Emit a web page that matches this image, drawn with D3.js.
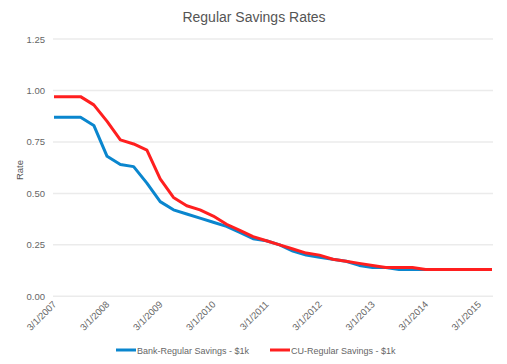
<!DOCTYPE html>
<html><head><meta charset="utf-8">
<script src="https://cdn.jsdelivr.net/npm/d3@7"></script>
<style>body{margin:0;background:#fff}svg{display:block;font-family:"Liberation Sans",Arial,sans-serif}</style>
</head><body>
<script>
const dates = ["3/1/2007","6/1/2007","9/1/2007","12/1/2007","3/1/2008","6/1/2008","9/1/2008","12/1/2008",
"3/1/2009","6/1/2009","9/1/2009","12/1/2009","3/1/2010","6/1/2010","9/1/2010","12/1/2010",
"3/1/2011","6/1/2011","9/1/2011","12/1/2011","3/1/2012","6/1/2012","9/1/2012","12/1/2012",
"3/1/2013","6/1/2013","9/1/2013","12/1/2013","3/1/2014","6/1/2014","9/1/2014","12/1/2014",
"3/1/2015","6/1/2015"];
const bank = [0.87,0.87,0.87,0.83,0.68,0.64,0.63,0.55,0.46,0.42,0.40,0.38,0.36,0.34,0.31,0.28,0.27,0.25,0.22,0.20,0.19,0.18,0.17,0.15,0.14,0.14,0.13,0.13,0.13,0.13,0.13,0.13,0.13,0.13];
const cu = [0.97,0.97,0.97,0.93,0.85,0.76,0.74,0.71,0.57,0.48,0.44,0.42,0.39,0.35,0.32,0.29,0.27,0.25,0.23,0.21,0.20,0.18,0.17,0.16,0.15,0.14,0.14,0.14,0.13,0.13,0.13,0.13,0.13,0.13];
const yTicks = [0,0.25,0.5,0.75,1.0,1.25];
const seriesNames = ["Bank-Regular Savings - $1k","CU-Regular Savings - $1k"];
const colors = ["#0a86ce","#ff1f1f"];

const W=507,H=364;
const svg=d3.select("body").append("svg").attr("width",W).attr("height",H);
const x=d3.scalePoint().domain(dates).range([54,492]);
const y=d3.scaleLinear().domain([0,1.25]).range([296.3,39]);

svg.append("text").attr("x",254).attr("y",22).attr("text-anchor","middle")
  .attr("font-size",14).attr("fill","#555").text("Regular Savings Rates");

const g=svg.append("g");
g.selectAll("line.grid").data(yTicks).join("line").attr("class","grid")
  .attr("x1",53).attr("x2",493).attr("y1",d=>y(d)).attr("y2",d=>y(d))
  .attr("stroke","#ebebeb").attr("stroke-width",1.5);
g.selectAll("text.yt").data(yTicks).join("text").attr("class","yt")
  .attr("x",45).attr("y",d=>y(d)+3.5).attr("text-anchor","end")
  .attr("font-size",9.5).attr("fill","#666").text(d3.format(".2f"));

svg.append("text").attr("transform","translate(23,170) rotate(-90)")
  .attr("text-anchor","middle").attr("font-size",9.5).attr("fill","#555").text("Rate");

const xt = dates.filter((d,i)=>i%4===0);
svg.selectAll("text.xt").data(xt).join("text").attr("class","xt")
  .attr("transform",d=>`translate(${x(d)+3},${305}) rotate(-45)`)
  .attr("text-anchor","end").attr("font-size",9.5).attr("fill","#666").text(d=>d);

const line=d3.line().x((d,i)=>x(dates[i])).y(d=>y(d));
[bank,cu].forEach((s,k)=>{
  svg.append("path").datum(s).attr("d",line).attr("fill","none")
    .attr("stroke",colors[k]).attr("stroke-width",3).attr("stroke-linejoin","round");
});

const leg=[{x:116,name:seriesNames[0],c:colors[0]},{x:270,name:seriesNames[1],c:colors[1]}];
leg.forEach(l=>{
  svg.append("line").attr("x1",l.x).attr("x2",l.x+20).attr("y1",350).attr("y2",350)
    .attr("stroke",l.c).attr("stroke-width",3);
  svg.append("text").attr("x",l.x+21).attr("y",353.5).attr("font-size",9).attr("fill","#666").text(l.name);
});
</script>
</body></html>
